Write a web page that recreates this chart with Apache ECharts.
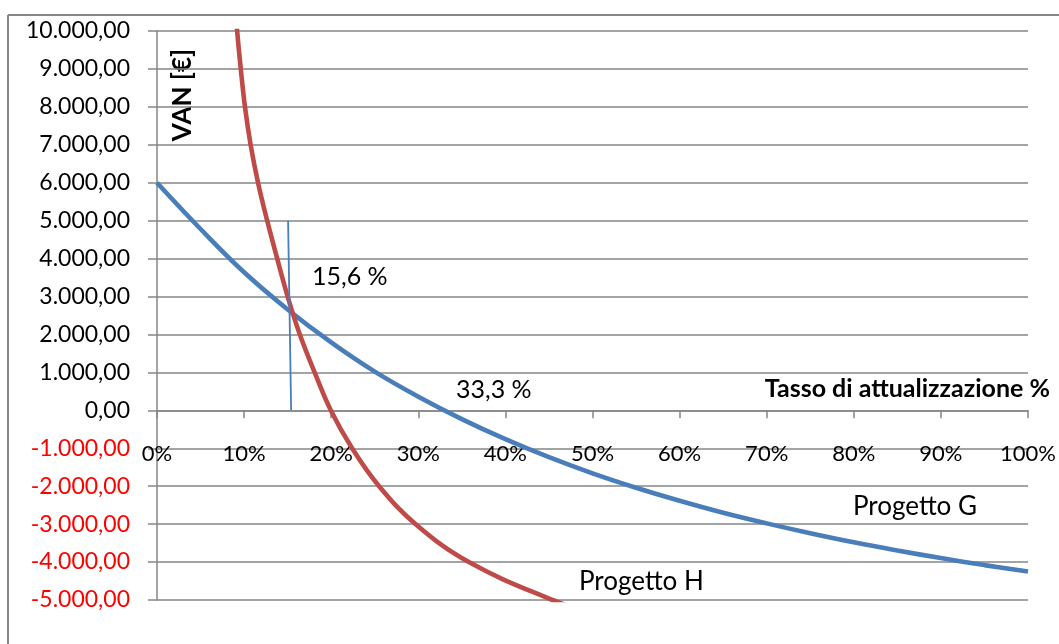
<!DOCTYPE html>
<html>
<head>
<meta charset="utf-8">
<script src="https://cdn.jsdelivr.net/npm/echarts@6/dist/echarts.min.js"></script>
<style>
  html, body { margin: 0; padding: 0; background: #ffffff; }
  #chart { width: 1059px; height: 644px; }
</style>
</head>
<body>
<div id="chart"></div>
<script>
// Progetto G: NPV (€) at each discount rate (%)
const gRates  = [0, 5, 10, 15, 20, 25, 30, 35, 40, 45, 50, 55, 60, 65, 70, 75, 80, 85, 90, 95, 100];
const gValues = [6000, 4780, 3640, 2660, 1790, 1020, 360, -230, -760, -1235, -1660, -2040, -2385, -2700, -2980, -3240, -3480, -3695, -3895, -4080, -4250];

// Progetto H: rate (%) at which the NPV reaches each value
const hRates  = [8.5, 9.2, 9.62, 10.1, 10.75, 11.6, 12.65, 13.8, 15.0, 16.4, 18.1, 19.95, 22.4, 25.5, 29.7, 35.8, 45.4, 50];
const hValues = [11900, 10000, 9000, 8000, 7000, 6000, 5000, 4000, 3000, 2000, 1000, 0, -1000, -2000, -3000, -4000, -5000, -5350];

// Fisher intersection marker
const crossRates  = [15.05, 15.4];
const crossValues = [5000, 0];

const yRange = { min: -5000, max: 10000, step: 1000 };
const xRange = { min: 0, max: 100, step: 10 };

const labels = {
  yName: 'VAN [€]',
  xName: 'Tasso di attualizzazione %',
  cross: '15,6 %',
  irrG: '33,3 %',
  nameG: 'Progetto G',
  nameH: 'Progetto H'
};

const pairs = (xs, ys) => xs.map((x, i) => [x, ys[i]]);

function itNumber(v) {
  const neg = v < 0;
  const s = Math.abs(v).toFixed(2);
  let [int, dec] = s.split('.');
  int = int.replace(/\B(?=(\d{3})+(?!\d))/g, '.');
  return (neg ? '-' : '') + int + ',' + dec;
}

const FONT = 'Lato, "Open Sans", sans-serif';
const GRID = '#868686';
const W = 1059, H = 644;
const grid = { left: 157, right: 31, top: 31, bottom: 44 };
const plotH = H - grid.top - grid.bottom;
// the rate axis sits on the zero line
const zeroY = grid.top + plotH * (yRange.max / (yRange.max - yRange.min));
const xAxisOffset = -(H - grid.bottom - zeroY);

const chart = echarts.init(document.getElementById('chart'), null, { renderer: 'canvas' });
chart.setOption({
  backgroundColor: '#ffffff',
  animation: false,
  grid: Object.assign({ containLabel: false, outerBoundsMode: 'none' }, grid),
  xAxis: {
    type: 'value',
    position: 'bottom',
    offset: xAxisOffset,
    min: xRange.min, max: xRange.max, interval: xRange.step,
    axisLine: { onZero: false, lineStyle: { color: GRID, width: 1.5 } },
    axisTick: { show: true, length: 8, lineStyle: { color: GRID, width: 1.5 } },
    axisLabel: { margin: 33, fontSize: 22, fontFamily: FONT, color: '#000', formatter: '{value}%' },
    splitLine: { show: false }
  },
  yAxis: {
    type: 'value',
    min: yRange.min, max: yRange.max, interval: yRange.step,
    axisLine: { show: true, lineStyle: { color: GRID, width: 1.5 } },
    axisTick: { show: true, length: 9, lineStyle: { color: GRID, width: 1.5 } },
    axisLabel: {
      margin: 27, fontSize: 23, fontFamily: FONT,
      color: (v) => (Number(v) < 0 ? '#ff0000' : '#000000'),
      formatter: (v) => itNumber(v)
    },
    splitLine: { show: true, lineStyle: { color: GRID, width: 1.5 } }
  },
  series: [
    {
      name: labels.nameG, type: 'line', data: pairs(gRates, gValues),
      smooth: 0.4, showSymbol: false, clip: true,
      lineStyle: { color: '#4a7ebb', width: 4.6 }, z: 3
    },
    {
      name: labels.nameH, type: 'line', data: pairs(hRates, hValues),
      smooth: 0.4, showSymbol: false, clip: true,
      lineStyle: { color: '#be4b48', width: 4.6 }, z: 4
    },
    {
      name: 'cross', type: 'line', data: pairs(crossRates, crossValues),
      showSymbol: false, clip: true,
      lineStyle: { color: '#4a7ebb', width: 1.8 }, z: 5
    }
  ],
  graphic: [
    { type: 'line', shape: { x1: 8, y1: 15, x2: W, y2: 15 }, style: { stroke: GRID, lineWidth: 2 } },
    { type: 'line', shape: { x1: 8, y1: 15, x2: 8, y2: H }, style: { stroke: GRID, lineWidth: 2 } },
    { type: 'text', x: 183, y: 95, rotation: Math.PI / 2,
      style: { text: labels.yName, fontWeight: 'bold', fontSize: 26, fontFamily: FONT, fill: '#000', textAlign: 'center', textVerticalAlign: 'middle' } },
    { type: 'text', x: 1050, y: 389,
      style: { text: labels.xName, fontWeight: 'bold', fontSize: 25, fontFamily: FONT, fill: '#000', textAlign: 'right', textVerticalAlign: 'middle' } },
    { type: 'text', x: 312, y: 277,
      style: { text: labels.cross, fontSize: 25, fontFamily: FONT, fill: '#000', textAlign: 'left', textVerticalAlign: 'middle' } },
    { type: 'text', x: 456, y: 390,
      style: { text: labels.irrG, fontSize: 25, fontFamily: FONT, fill: '#000', textAlign: 'left', textVerticalAlign: 'middle' } },
    { type: 'text', x: 853, y: 507,
      style: { text: labels.nameG, fontSize: 26, fontFamily: FONT, fill: '#000', textAlign: 'left', textVerticalAlign: 'middle' } },
    { type: 'text', x: 579, y: 582,
      style: { text: labels.nameH, fontSize: 26, fontFamily: FONT, fill: '#000', textAlign: 'left', textVerticalAlign: 'middle' } }
  ]
});
</script>
</body>
</html>
